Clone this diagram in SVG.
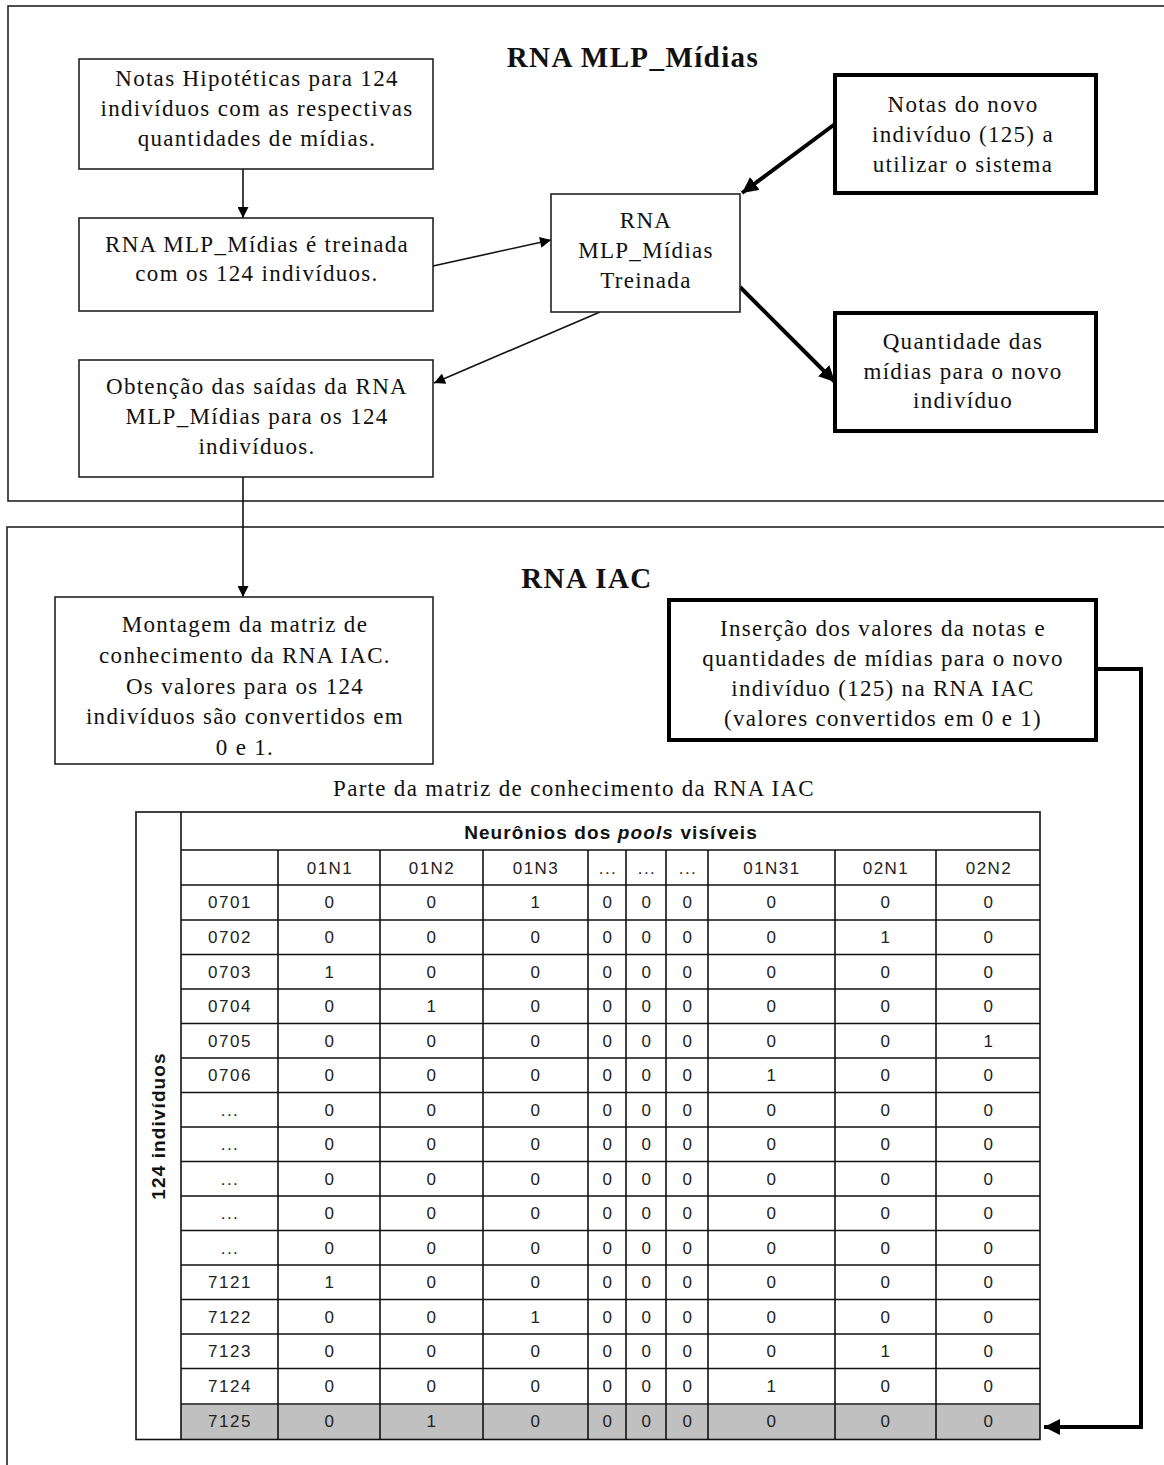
<svg xmlns="http://www.w3.org/2000/svg" width="1164" height="1465" viewBox="0 0 1164 1465">
  <defs>
    <marker id="arr" viewBox="0 0 10 10" refX="10" refY="5" markerWidth="12" markerHeight="11" markerUnits="userSpaceOnUse" orient="auto">
      <path d="M0,0 L10,5 L0,10 z" fill="#000"/>
    </marker>
    <marker id="arrT" viewBox="0 0 10 10" refX="10" refY="5" markerWidth="4" markerHeight="4" orient="auto">
      <path d="M0,0 L10,5 L0,10 z" fill="#000"/>
    </marker>
    <style>
      .frame { fill: none; stroke: #222; stroke-width: 1.6; }
      .box { fill: #fff; stroke: #222; stroke-width: 1.6; }
      .tbox { fill: #fff; stroke: #000; stroke-width: 4; }
      .t { font-family: "Liberation Serif", "Times New Roman", serif; font-size: 23px; letter-spacing: 1.3px; fill: #111; text-anchor: middle; }
      .title { font-family: "Liberation Serif", "Times New Roman", serif; font-size: 29px; letter-spacing: 1.4px; font-weight: bold; fill: #111; text-anchor: middle; }
      .cap { font-family: "Liberation Serif", "Times New Roman", serif; font-size: 23px; letter-spacing: 1.3px; fill: #111; text-anchor: middle; }
      .c { stroke: #111; stroke-width: 1.6; fill: none; }
      .ck { stroke: #000; stroke-width: 4; fill: none; }
      .grid { stroke: #111; stroke-width: 1.6; fill: none; }
      .d { font-family: "Liberation Sans", Arial, sans-serif; font-size: 17px; letter-spacing: 1.5px; fill: #222; text-anchor: middle; }
      .h { font-family: "Liberation Sans", Arial, sans-serif; font-size: 19px; letter-spacing: 1.1px; font-weight: bold; fill: #111; text-anchor: middle; }
    </style>
  </defs>

  <!-- section frames -->
  <rect class="frame" x="8" y="6" width="1170" height="495"/>
  <rect class="frame" x="7" y="527" width="1170" height="960"/>
  <text class="title" x="633" y="67">RNA MLP_Mídias</text>
  <text class="title" x="587" y="588">RNA IAC</text>

  <!-- connectors -->
  <g id="connectors">
    <line class="c" x1="243" y1="169" x2="243" y2="218" marker-end="url(#arr)"/>
    <line class="c" x1="433" y1="266" x2="551" y2="240" marker-end="url(#arr)"/>
    <line class="ck" x1="835" y1="124" x2="742" y2="193" marker-end="url(#arrT)"/>
    <line class="ck" x1="740" y1="287" x2="835" y2="382" marker-end="url(#arrT)"/>
    <line class="c" x1="600" y1="312" x2="434" y2="383" marker-end="url(#arr)"/>
    <line class="c" x1="243" y1="477" x2="243" y2="597" marker-end="url(#arr)"/>
    <polyline class="ck" points="1096,669 1141,669 1141,1427 1044,1427" marker-end="url(#arrT)"/>
  </g>

  <g id="n-notas124">
    <rect class="box" x="79" y="59" width="354" height="110"/>
    <text class="t" x="257" y="86">Notas Hipotéticas para 124</text>
    <text class="t" x="257" y="116">indivíduos com as respectivas</text>
    <text class="t" x="257" y="146">quantidades de mídias.</text>
  </g>

  <g id="n-treino">
    <rect class="box" x="79" y="218" width="354" height="93"/>
    <text class="t" x="257" y="252">RNA MLP_Mídias é treinada</text>
    <text class="t" x="257" y="281">com os 124 indivíduos.</text>
  </g>

  <g id="n-treinada">
    <rect class="box" x="551" y="194" width="189" height="118"/>
    <text class="t" x="646" y="228">RNA</text>
    <text class="t" x="646" y="258">MLP_Mídias</text>
    <text class="t" x="646" y="288">Treinada</text>
  </g>

  <g id="n-novo">
    <rect class="tbox" x="835" y="75" width="261" height="118"/>
    <text class="t" x="963" y="112">Notas do novo</text>
    <text class="t" x="963" y="142">indivíduo (125) a</text>
    <text class="t" x="963" y="172">utilizar o sistema</text>
  </g>

  <g id="n-quantidade">
    <rect class="tbox" x="835" y="313" width="261" height="118"/>
    <text class="t" x="963" y="349">Quantidade das</text>
    <text class="t" x="963" y="379">mídias para o novo</text>
    <text class="t" x="963" y="408">indivíduo</text>
  </g>

  <g id="n-saidas">
    <rect class="box" x="79" y="360" width="354" height="117"/>
    <text class="t" x="257" y="394">Obtenção das saídas da RNA</text>
    <text class="t" x="257" y="424">MLP_Mídias para os 124</text>
    <text class="t" x="257" y="454">indivíduos.</text>
  </g>

  <g id="n-montagem">
    <rect class="box" x="55" y="597" width="378" height="167"/>
    <text class="t" x="245" y="632">Montagem da matriz de</text>
    <text class="t" x="245" y="663">conhecimento da RNA IAC.</text>
    <text class="t" x="245" y="694">Os valores para os 124</text>
    <text class="t" x="245" y="724">indivíduos são convertidos em</text>
    <text class="t" x="245" y="755">0 e 1.</text>
  </g>

  <g id="n-insercao">
    <rect class="tbox" x="669" y="600" width="427" height="140"/>
    <text class="t" x="883" y="636">Inserção dos valores da notas e</text>
    <text class="t" x="883" y="666">quantidades de mídias para o novo</text>
    <text class="t" x="883" y="696">indivíduo (125) na RNA IAC</text>
    <text class="t" x="883" y="726">(valores convertidos em 0 e 1)</text>
  </g>

  <!-- knowledge matrix -->
  <g id="n-matriz">
    <text class="cap" x="574" y="796">Parte da matriz de conhecimento da RNA IAC</text>
    <rect x="181" y="1405" width="859" height="34.5" fill="#c0c0c0"/>
    <rect class="grid" x="136" y="812" width="904" height="627.5"/>
    <line class="grid" x1="181" y1="812" x2="181" y2="1439.5"/>
    <line class="grid" x1="181" y1="850" x2="1040" y2="850"/>
    <line class="grid" x1="181" y1="885" x2="1040" y2="885"/>
    <g class="grid">
      <line x1="181" y1="920" x2="1040" y2="920"/>
      <line x1="181" y1="954.5" x2="1040" y2="954.5"/>
      <line x1="181" y1="989" x2="1040" y2="989"/>
      <line x1="181" y1="1023.5" x2="1040" y2="1023.5"/>
      <line x1="181" y1="1058" x2="1040" y2="1058"/>
      <line x1="181" y1="1092.5" x2="1040" y2="1092.5"/>
      <line x1="181" y1="1127" x2="1040" y2="1127"/>
      <line x1="181" y1="1161.5" x2="1040" y2="1161.5"/>
      <line x1="181" y1="1196" x2="1040" y2="1196"/>
      <line x1="181" y1="1230.5" x2="1040" y2="1230.5"/>
      <line x1="181" y1="1265" x2="1040" y2="1265"/>
      <line x1="181" y1="1299.5" x2="1040" y2="1299.5"/>
      <line x1="181" y1="1334" x2="1040" y2="1334"/>
      <line x1="181" y1="1368.5" x2="1040" y2="1368.5"/>
      <line x1="181" y1="1404" x2="1040" y2="1404"/>
      <line x1="278" y1="850" x2="278" y2="1439.5"/>
      <line x1="380" y1="850" x2="380" y2="1439.5"/>
      <line x1="483" y1="850" x2="483" y2="1439.5"/>
      <line x1="588" y1="850" x2="588" y2="1439.5"/>
      <line x1="626" y1="850" x2="626" y2="1439.5"/>
      <line x1="666" y1="850" x2="666" y2="1439.5"/>
      <line x1="708" y1="850" x2="708" y2="1439.5"/>
      <line x1="835" y1="850" x2="835" y2="1439.5"/>
      <line x1="936" y1="850" x2="936" y2="1439.5"/>
    </g>
    <text class="h" x="611" y="839">Neurônios dos <tspan font-style="italic">pools</tspan> visíveis</text>
    <text class="h" transform="translate(165,1126) rotate(-90)">124 indivíduos</text>

    <g class="d">
      <!-- column headings -->
      <text x="330" y="874">01N1</text><text x="432" y="874">01N2</text><text x="536" y="874">01N3</text>
      <text x="608" y="874">...</text><text x="647" y="874">...</text><text x="688" y="874">...</text>
      <text x="772" y="874">01N31</text><text x="886" y="874">02N1</text><text x="989" y="874">02N2</text>
    </g>
    <g class="d" id="rows">
      <g transform="translate(0,908)"><text x="230">0701</text><text x="330">0</text><text x="432">0</text><text x="536">1</text><text x="608">0</text><text x="647">0</text><text x="688">0</text><text x="772">0</text><text x="886">0</text><text x="989">0</text></g>
      <g transform="translate(0,943)"><text x="230">0702</text><text x="330">0</text><text x="432">0</text><text x="536">0</text><text x="608">0</text><text x="647">0</text><text x="688">0</text><text x="772">0</text><text x="886">1</text><text x="989">0</text></g>
      <g transform="translate(0,977.5)"><text x="230">0703</text><text x="330">1</text><text x="432">0</text><text x="536">0</text><text x="608">0</text><text x="647">0</text><text x="688">0</text><text x="772">0</text><text x="886">0</text><text x="989">0</text></g>
      <g transform="translate(0,1012)"><text x="230">0704</text><text x="330">0</text><text x="432">1</text><text x="536">0</text><text x="608">0</text><text x="647">0</text><text x="688">0</text><text x="772">0</text><text x="886">0</text><text x="989">0</text></g>
      <g transform="translate(0,1046.5)"><text x="230">0705</text><text x="330">0</text><text x="432">0</text><text x="536">0</text><text x="608">0</text><text x="647">0</text><text x="688">0</text><text x="772">0</text><text x="886">0</text><text x="989">1</text></g>
      <g transform="translate(0,1081)"><text x="230">0706</text><text x="330">0</text><text x="432">0</text><text x="536">0</text><text x="608">0</text><text x="647">0</text><text x="688">0</text><text x="772">1</text><text x="886">0</text><text x="989">0</text></g>
      <g transform="translate(0,1115.5)"><text x="230">...</text><text x="330">0</text><text x="432">0</text><text x="536">0</text><text x="608">0</text><text x="647">0</text><text x="688">0</text><text x="772">0</text><text x="886">0</text><text x="989">0</text></g>
      <g transform="translate(0,1150)"><text x="230">...</text><text x="330">0</text><text x="432">0</text><text x="536">0</text><text x="608">0</text><text x="647">0</text><text x="688">0</text><text x="772">0</text><text x="886">0</text><text x="989">0</text></g>
      <g transform="translate(0,1184.5)"><text x="230">...</text><text x="330">0</text><text x="432">0</text><text x="536">0</text><text x="608">0</text><text x="647">0</text><text x="688">0</text><text x="772">0</text><text x="886">0</text><text x="989">0</text></g>
      <g transform="translate(0,1219)"><text x="230">...</text><text x="330">0</text><text x="432">0</text><text x="536">0</text><text x="608">0</text><text x="647">0</text><text x="688">0</text><text x="772">0</text><text x="886">0</text><text x="989">0</text></g>
      <g transform="translate(0,1253.5)"><text x="230">...</text><text x="330">0</text><text x="432">0</text><text x="536">0</text><text x="608">0</text><text x="647">0</text><text x="688">0</text><text x="772">0</text><text x="886">0</text><text x="989">0</text></g>
      <g transform="translate(0,1288)"><text x="230">7121</text><text x="330">1</text><text x="432">0</text><text x="536">0</text><text x="608">0</text><text x="647">0</text><text x="688">0</text><text x="772">0</text><text x="886">0</text><text x="989">0</text></g>
      <g transform="translate(0,1322.5)"><text x="230">7122</text><text x="330">0</text><text x="432">0</text><text x="536">1</text><text x="608">0</text><text x="647">0</text><text x="688">0</text><text x="772">0</text><text x="886">0</text><text x="989">0</text></g>
      <g transform="translate(0,1357)"><text x="230">7123</text><text x="330">0</text><text x="432">0</text><text x="536">0</text><text x="608">0</text><text x="647">0</text><text x="688">0</text><text x="772">0</text><text x="886">1</text><text x="989">0</text></g>
      <g transform="translate(0,1392)"><text x="230">7124</text><text x="330">0</text><text x="432">0</text><text x="536">0</text><text x="608">0</text><text x="647">0</text><text x="688">0</text><text x="772">1</text><text x="886">0</text><text x="989">0</text></g>
      <g transform="translate(0,1427)"><text x="230">7125</text><text x="330">0</text><text x="432">1</text><text x="536">0</text><text x="608">0</text><text x="647">0</text><text x="688">0</text><text x="772">0</text><text x="886">0</text><text x="989">0</text></g>
    </g>
  </g>
</svg>
